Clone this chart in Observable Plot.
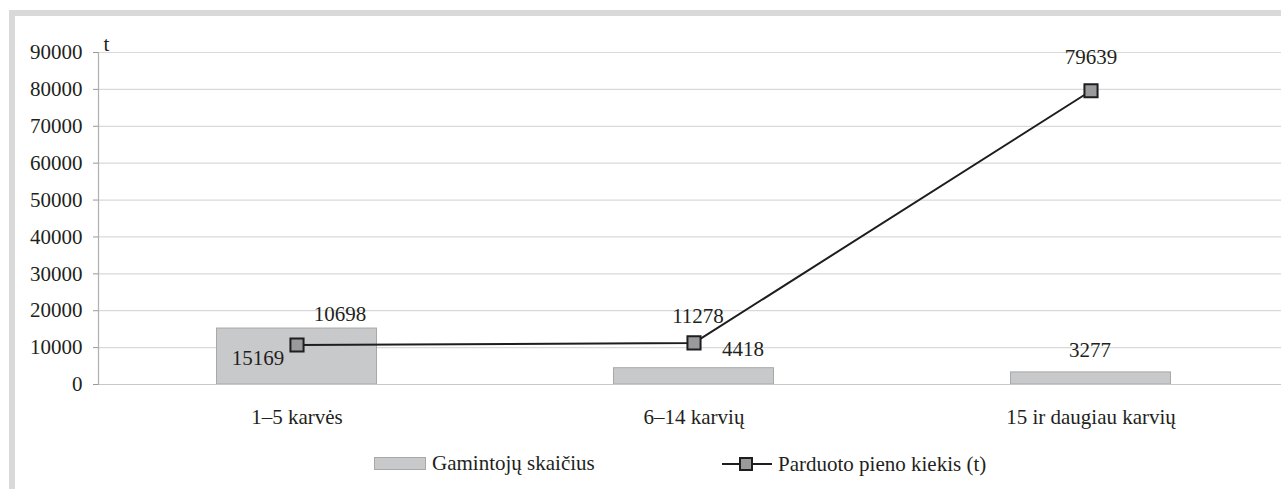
<!DOCTYPE html>
<html>
<head>
<meta charset="utf-8">
<script src="https://cdn.jsdelivr.net/npm/d3@7"></script>
<script src="https://cdn.jsdelivr.net/npm/@observablehq/plot@0.6"></script>
<style>
  html, body { margin: 0; padding: 0; background: #fff; }
  #wrap { position: relative; width: 1281px; height: 489px; overflow: hidden; font-family: 'Liberation Serif'; color: #231f20; }
  #frame { position: absolute; left: 9px; top: 10px; right: -20px; bottom: -20px; border-top: 6px solid #d9d9d9; border-left: 6px solid #d9d9d9; }
  #chart { position: absolute; left: 0; top: 0; }
  .leg { position: absolute; font-family: 'Liberation Serif'; font-size: 21px; line-height: 21px; white-space: nowrap; }
</style>
</head>
<body>
<div id="wrap">
  <div id="frame"></div>
  <div id="chart"></div>
  <div id="legend"></div>
</div>
<script>
const categories = ["1–5 karvės", "6–14 karvių", "15 ir daugiau karvių"];
const producers = [15169, 4418, 3277];      // Gamintojų skaičius (bars)
const milkSold = [10698, 11278, 79639];     // Parduoto pieno kiekis (t) (line)
const yTicks = [0, 10000, 20000, 30000, 40000, 50000, 60000, 70000, 80000, 90000];
const seriesNames = ["Gamintojų skaičius", "Parduoto pieno kiekis (t)"];
const unitLabel = "t";

const barData = categories.map((c, i) => ({cat: c, v: producers[i]}));
const lineData = categories.map((c, i) => ({cat: c, v: milkSold[i]}));

const ink = "#231f20";
const font = "Liberation Serif";

// per-category label offsets (style only)
const lineLabelOffsets = [[43, -31], [4, -27], [0, -33]];
const barLabelOffsets = [[-39, 30], [49, -19], [-1, -22]];

const lineLabels = lineData.map((d, i) => Plot.text([d], {
  x: "cat", y: "v", text: d => String(d.v), dx: lineLabelOffsets[i][0], dy: lineLabelOffsets[i][1],
  fontSize: 21, fill: ink, fontFamily: font
}));
const barLabels = barData.map((d, i) => Plot.text([d], {
  x: "cat", y: "v", text: d => String(d.v), dx: barLabelOffsets[i][0], dy: barLabelOffsets[i][1],
  fontSize: 21, fill: ink, fontFamily: font
}));

const chart = Plot.plot({
  width: 1281,
  height: 440,
  marginTop: 52,
  marginBottom: 56,
  marginLeft: 98,
  marginRight: 0,
  style: {fontFamily: font, fontSize: "21px", color: ink, background: "transparent", overflow: "visible"},
  x: {type: "band", domain: categories, range: [98, 1289], padding: 0},
  y: {domain: [0, 90000], range: [384, 52]},
  marks: [
    Plot.ruleY(yTicks, {stroke: "#d9d9d9", strokeWidth: 1.2}),
    Plot.barY(barData, {x: "cat", y: "v", fill: "#c8c9cb", stroke: "#a8a8a8", strokeWidth: 1, insetLeft: 118.5, insetRight: 118.5}),
    Plot.ruleY([0], {stroke: "#c8c8c8", strokeWidth: 1.2}),
    Plot.frame({anchor: "left", stroke: "#b0b0b0", strokeWidth: 1.2}),
    Plot.axisY({ticks: yTicks, tickFormat: d3.format("d"), tickSize: 5, tickPadding: 11, stroke: "#999", fontSize: 21, fill: ink, fontFamily: font, label: null}),
    Plot.axisX({tickSize: 0, tickPadding: 25, fontSize: 21, fill: ink, fontFamily: font, label: null}),
    Plot.text([unitLabel], {frameAnchor: "top-left", dx: 5, dy: -16, fontSize: 21, fill: ink, fontFamily: font}),
    Plot.lineY(lineData, {x: "cat", y: "v", stroke: "#1e1e1e", strokeWidth: 2}),
    Plot.dot(lineData, {x: "cat", y: "v", symbol: "square", r: 7.4, fill: "#9a9a9c", stroke: "#1e1e1e", strokeWidth: 2}),
    ...lineLabels,
    ...barLabels
  ]
});
document.getElementById("chart").appendChild(chart);

const legend = document.getElementById("legend");
legend.innerHTML = `
  <div style="position:absolute;left:374px;top:457px;width:50px;height:11px;background:#c8c9cb;border:1px solid #a8a8a8;"></div>
  <div class="leg" style="left:432px;top:453px;">${seriesNames[0]}</div>
  <svg style="position:absolute;left:720px;top:454px;" width="56" height="20">
    <line x1="2" y1="10" x2="52" y2="10" stroke="#1e1e1e" stroke-width="2"/>
    <rect x="20" y="4" width="12" height="12" fill="#9a9a9c" stroke="#1e1e1e" stroke-width="2"/>
  </svg>
  <div class="leg" style="left:778px;top:454px;">${seriesNames[1]}</div>
`;
</script>
</body>
</html>
